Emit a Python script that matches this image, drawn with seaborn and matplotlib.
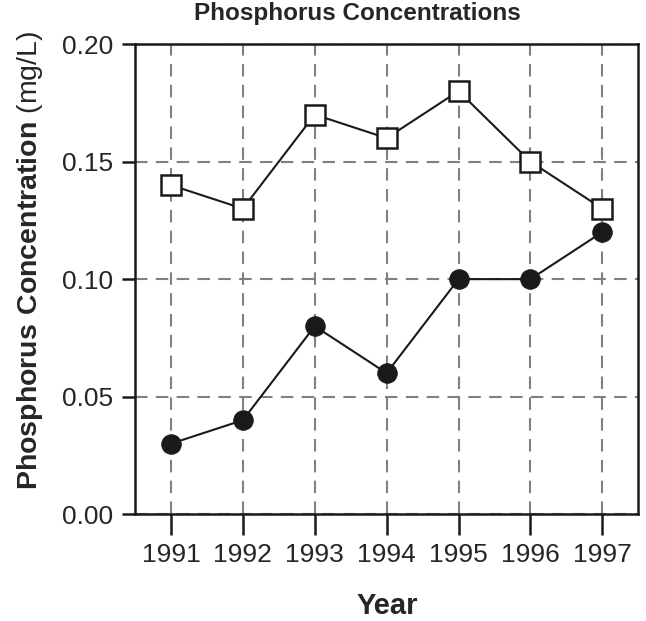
import pandas as pd
import numpy as np
import matplotlib
matplotlib.use("Agg")
import matplotlib.pyplot as plt
import seaborn as sns

# data
years = [1991, 1992, 1993, 1994, 1995, 1996, 1997]
upper_series = [0.14, 0.13, 0.17, 0.16, 0.18, 0.15, 0.13]   # open squares
lower_series = [0.03, 0.04, 0.08, 0.06, 0.10, 0.10, 0.12]   # filled circles
y_ticks = [0.00, 0.05, 0.10, 0.15, 0.20]

sns.set_style("ticks")
plt.rcParams["font.family"] = ["Liberation Sans", "DejaVu Sans"]
plt.rcParams["mathtext.fontset"] = "custom"
plt.rcParams["mathtext.rm"] = "Liberation Sans"
plt.rcParams["mathtext.bf"] = "Liberation Sans:bold"

fig = plt.figure(figsize=(6.46, 6.21), dpi=100)
ax = fig.add_axes([0.209, 0.172, 0.779, 0.757])

df = pd.DataFrame({"Year": years, "upper": upper_series, "lower": lower_series})

# grid first so the lines sit on top
ax.set_axisbelow(True)
ax.grid(True, color="#808080", linestyle=(0, (6, 4)), linewidth=1.5)

sns.lineplot(data=df, x="Year", y="upper", ax=ax, color="#1a1a1a", linewidth=1.5,
             marker="s", markersize=14, markerfacecolor="white",
             markeredgecolor="#1a1a1a", markeredgewidth=1.8, zorder=3)
sns.lineplot(data=df, x="Year", y="lower", ax=ax, color="#1a1a1a", linewidth=1.5,
             marker="o", markersize=14, markerfacecolor="#1a1a1a",
             markeredgecolor="#1a1a1a", zorder=3)

ax.set_xlim(1990.5, 1997.5)
ax.set_ylim(0, 0.20)
ax.set_xticks(years)
ax.set_xticklabels([str(y) for y in years])
ax.set_yticks(y_ticks)
ax.set_yticklabels([f"{v:.2f}" for v in y_ticks])
ax.set_xlabel("")
ax.set_ylabel("")

for s in ax.spines.values():
    s.set_linewidth(1.8)
    s.set_color("#1a1a1a")
    s.set_visible(True)

ax.tick_params(axis="x", length=15, width=1.8, pad=6, labelsize=19, color="#1a1a1a")
ax.tick_params(axis="y", length=9.5, width=1.8, pad=6, labelsize=19, color="#1a1a1a")

fig.text(0.553, 0.978, "Phosphorus Concentrations", ha="center", va="center",
         fontsize=17.5, fontweight="bold")
fig.text(0.599, 0.024, "Year", ha="center", va="center", fontsize=21, fontweight="bold")
fig.text(0.046, 0.581, r"$\mathbf{Phosphorus\ Concentration}$ (mg/L)", rotation=90,
         ha="center", va="center", fontsize=20.5)

fig.savefig("out.png", dpi=100)
